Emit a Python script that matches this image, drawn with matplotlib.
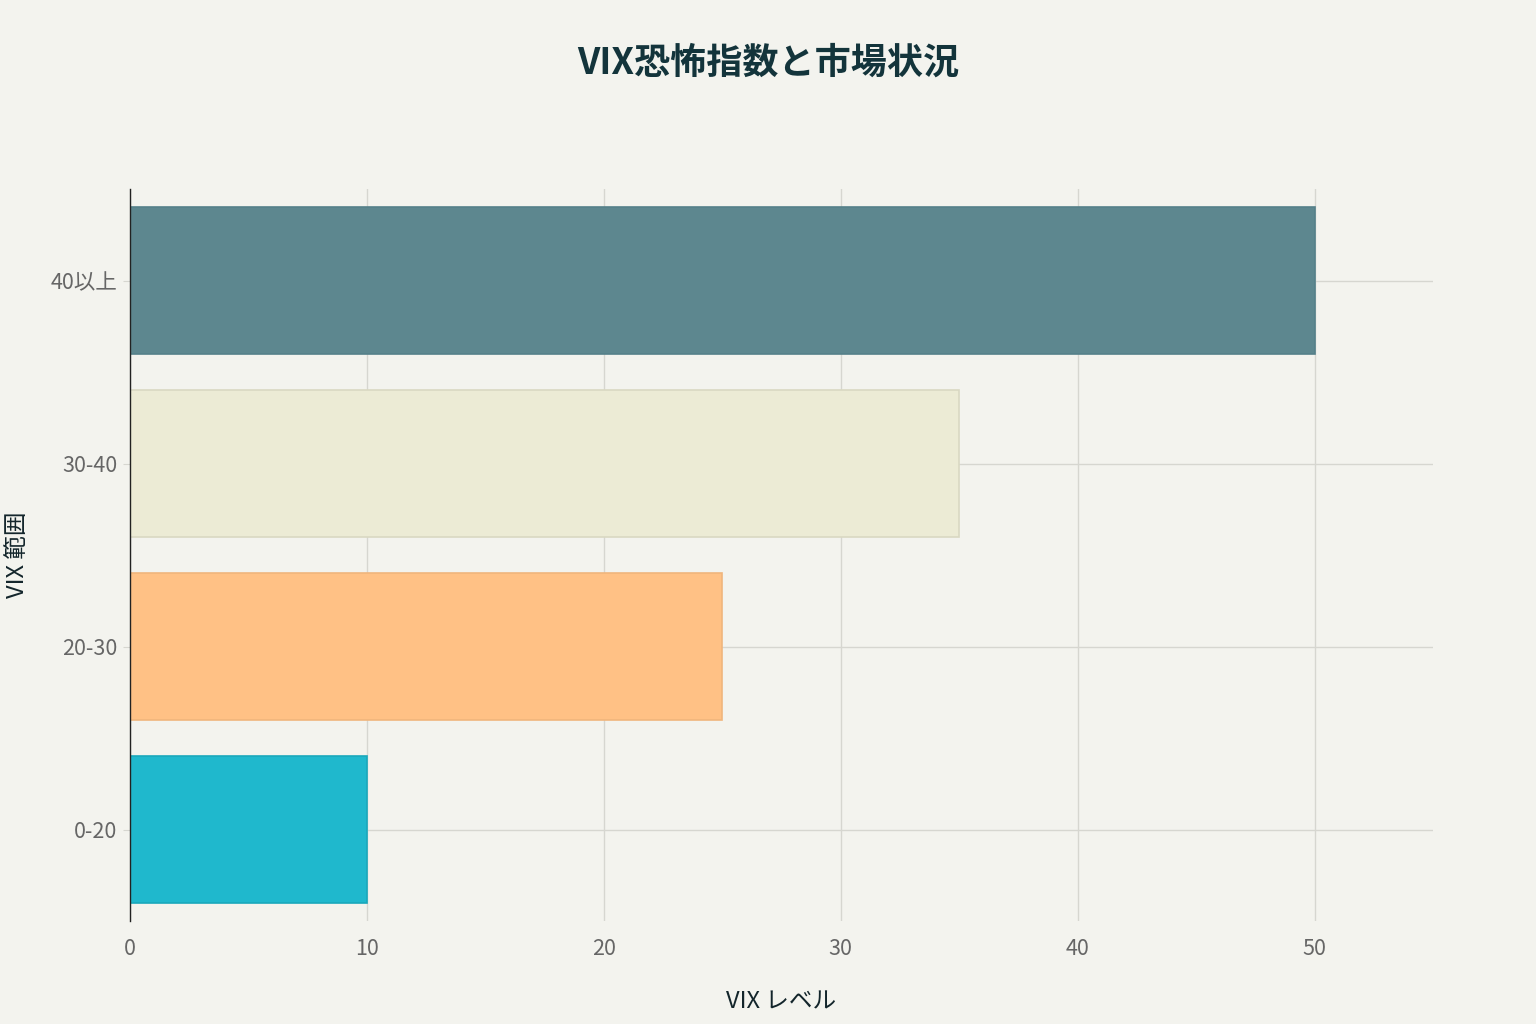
import matplotlib
matplotlib.use("Agg")
import matplotlib.pyplot as plt

plt.rcParams['font.family'] = ['Noto Sans CJK JP', 'DejaVu Sans']

categories = ["0-20", "20-30", "30-40", "40以上"]
values = [10, 25, 35, 50]
colors = ["#1FB8CD", "#FFC185", "#ECEBD5", "#5D878F"]
edges = ["#1aa8bb", "#f0b57c", "#d9d8c2", "#55808a"]
x_ticks = [0, 10, 20, 30, 40, 50]

bg = "#F3F3EE"
fig = plt.figure(figsize=(15.36, 10.24), dpi=100, facecolor=bg)
ax = fig.add_axes([130/1536, 1 - 921/1024, (1433-130)/1536, (921-189)/1024])
ax.set_facecolor(bg)

ypos = list(range(len(categories)))
ax.barh(ypos, values, height=0.8, color=colors, edgecolor=edges, linewidth=1.2, zorder=3)

ax.set_xlim(0, 55)
ax.set_ylim(-0.5, 3.5)
ax.set_xticks(x_ticks)
ax.set_xticklabels([str(t) for t in x_ticks])
ax.set_yticks(ypos)
ax.set_yticklabels(categories)

ax.grid(True, color="#D6D6D0", linewidth=1.0, zorder=0)
for s in ["top", "right", "bottom"]:
    ax.spines[s].set_visible(False)
ax.spines["left"].set_color("#222222")
ax.spines["left"].set_linewidth(1.0)
ax.spines["left"].set_zorder(4)

ax.tick_params(axis="x", length=0, pad=12, labelsize=15.5, labelcolor="#666666")
ax.tick_params(axis="y", length=5, color="#D6D6D0", pad=4, labelsize=15.5, labelcolor="#666666")

ax.set_xlabel("VIX レベル", fontsize=17, color="#13252B", labelpad=22)
ax.set_ylabel("VIX 範囲", fontsize=17, color="#13252B", labelpad=16)

fig.text(768/1536, 1 - 63/1024, "VIX恐怖指数と市場状況", ha="center", va="center",
         fontsize=26, fontweight="bold", color="#13343B")

fig.savefig("out.png", dpi=100, facecolor=bg)
